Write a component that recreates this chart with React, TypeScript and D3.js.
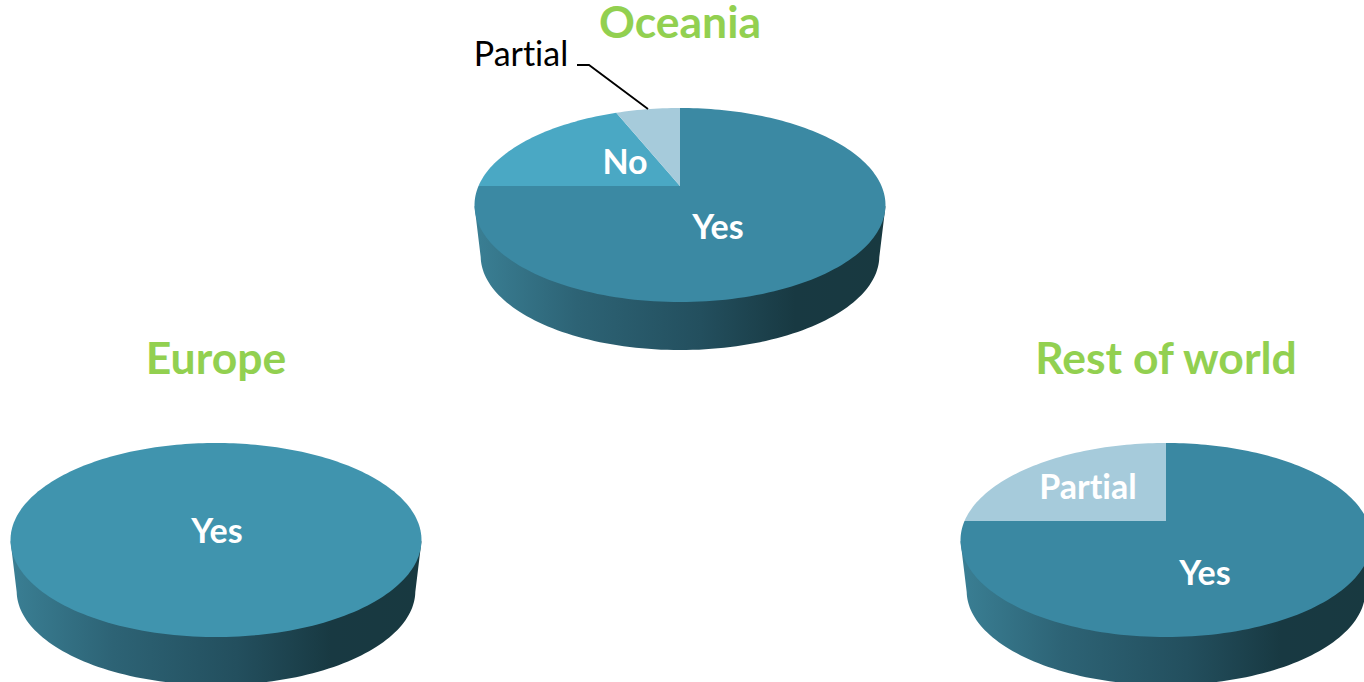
import React from "react";
import * as d3 from "d3";

// Survey answers by region, in percent, clockwise from twelve o'clock.
const regions = ["Oceania", "Europe", "Rest of world"];
const oceaniaAnswers = ["Yes", "No", "Partial"];
const oceaniaShares = [75, 18.9, 6.1];
const europeAnswers = ["Yes"];
const europeShares = [100];
const restAnswers = ["Yes", "Partial"];
const restShares = [75, 25];

const WIDTH = 1364;
const HEIGHT = 682;

// Tilted disc: the hub sits above the visual middle of the ellipse because of perspective.
const RADIUS_X = 201.5;
const RADIUS_Y = 93.3;
const PERSPECTIVE = 0.196;
const BASE_SCALE = 0.97;
const BASE_DROP = 51.5;

const layouts = [
  {
    hub: [680, 186], titleY: 38, fills: { Yes: "#3b89a3", No: "#4aa8c4", Partial: "#a6cbdb" } as Record<string, string>,
    labels: { Yes: [718, 239], No: [625, 174] } as Record<string, number[]>,
  },
  {
    hub: [216, 521], titleY: 374, fills: { Yes: "#4094ae" } as Record<string, string>,
    labels: { Yes: [217, 543] } as Record<string, number[]>,
  },
  {
    hub: [1166, 521], titleY: 374, fills: { Yes: "#3a88a2", Partial: "#a6cbdb" } as Record<string, string>,
    labels: { Yes: [1205, 585], Partial: [1088, 499] } as Record<string, number[]>,
  },
];

const answerSets = [oceaniaAnswers, europeAnswers, restAnswers];
const shareSets = [oceaniaShares, europeShares, restShares];

const FONT = "Lato, Carlito, 'Open Sans', sans-serif";
const TEXT_STYLE = { fontVariantLigatures: "none" } as React.CSSProperties;

// Maps a pie angle (0 at the top, clockwise) and a radius fraction onto the tilted disc.
function project(angle: number, r: number, hub: number[], scale = 1): [number, number] {
  const u = Math.sin(angle) * r;
  const v = Math.cos(angle) * r;
  const w = 1 + PERSPECTIVE * v;
  return [hub[0] + (scale * RADIUS_X * u) / w, hub[1] - (scale * RADIUS_Y * v) / w];
}

const toPath = d3.line<[number, number]>().x((p) => p[0]).y((p) => p[1]);

function sampleAngles(a0: number, a1: number) {
  const steps = Math.max(2, Math.ceil(((a1 - a0) / (2 * Math.PI)) * 240));
  return d3.range(steps + 1).map((i) => a0 + ((a1 - a0) * i) / steps);
}

function slicePath(a0: number, a1: number, hub: number[]) {
  const rim = sampleAngles(a0, a1).map((a) => project(a, 1, hub));
  const full = a1 - a0 >= 2 * Math.PI - 1e-6;
  return toPath(full ? rim : [[hub[0], hub[1]], ...rim])! + "Z";
}

// Wall of the disc: the widest points of the top rim joined round the lower half of the base rim.
function wallPath(hub: number[]) {
  const top = sampleAngles(0, 2 * Math.PI).map((a) => project(a, 1, hub));
  const left = top.reduce((m, p) => (p[0] < m[0] ? p : m));
  const right = top.reduce((m, p) => (p[0] > m[0] ? p : m));
  const baseHub = [hub[0], hub[1] + BASE_DROP];
  const base = sampleAngles(0, 2 * Math.PI)
    .map((a) => project(a, 1, baseHub, BASE_SCALE))
    .filter((p) => p[1] >= baseHub[1] + 19)
    .sort((p, q) => p[0] - q[0]);
  return toPath([left, ...base, right])! + "Z";
}

export default function App() {
  return (
    <svg
      width={WIDTH}
      height={HEIGHT}
      viewBox={`0 0 ${WIDTH} ${HEIGHT}`}
      style={{ position: "absolute", left: 0, top: 0, background: "#fff" }}
    >
      <defs>
        <linearGradient id="wall" x1="0" x2="1" y1="0" y2="0">
          <stop offset="0" stopColor="#3a7f94" />
          <stop offset="0.25" stopColor="#2d6375" />
          <stop offset="0.55" stopColor="#234f5e" />
          <stop offset="0.78" stopColor="#183942" />
          <stop offset="1" stopColor="#183940" />
        </linearGradient>
      </defs>
      {regions.map((region, i) => {
        const layout = layouts[i];
        const answers = answerSets[i];
        const pie = d3.pie<number>().sort(null).value((d) => d)(shareSets[i]);
        return (
          <g key={region}>
            <path d={wallPath(layout.hub)} fill="url(#wall)" />
            {pie.map((s, j) => (
              <path key={answers[j]} d={slicePath(s.startAngle, s.endAngle, layout.hub)} fill={layout.fills[answers[j]]} />
            ))}
            <text
              x={layout.hub[0]}
              y={layout.titleY}
              textAnchor="middle"
              fontFamily={FONT}
              fontWeight={700}
              fontSize={44.5}
              fill="#92d050"
              style={TEXT_STYLE}
            >
              {region}
            </text>
            {answers.map((a) =>
              layout.labels[a] ? (
                <text
                  key={a}
                  x={layout.labels[a][0]}
                  y={layout.labels[a][1]}
                  textAnchor="middle"
                  fontFamily={FONT}
                  fontWeight={700}
                  fontSize={34}
                  fill="#fff"
                  style={TEXT_STYLE}
                >
                  {a}
                </text>
              ) : null,
            )}
          </g>
        );
      })}
      {/* Outside label and leader for the thin Oceania slice */}
      <text x={521} y={66} textAnchor="middle" fontFamily={FONT} fontSize={34} fill="#000" style={TEXT_STYLE}>
        Partial
      </text>
      <path d="M577,65H589L648,109" fill="none" stroke="#000" strokeWidth={1.8} />
    </svg>
  );
}
